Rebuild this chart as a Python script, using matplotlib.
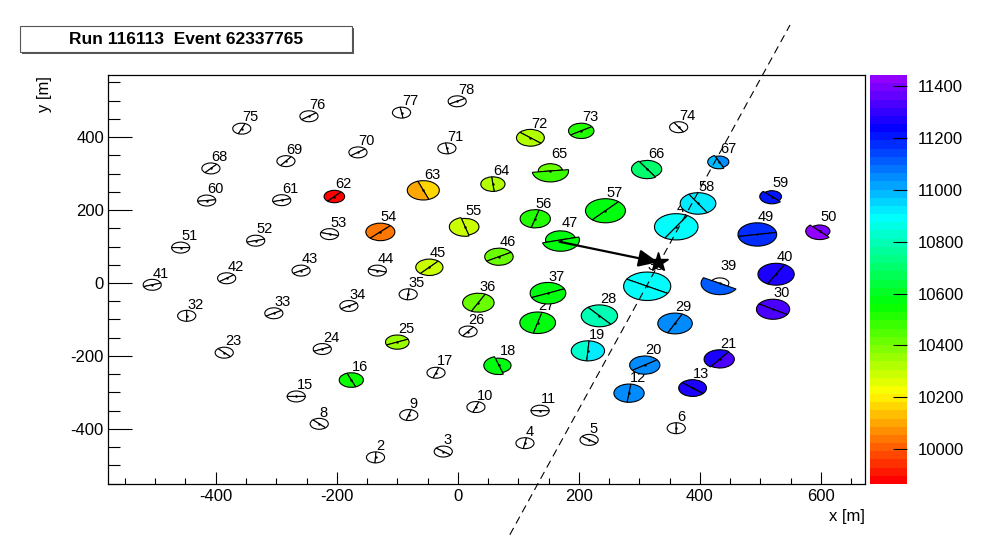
import numpy as np
import matplotlib
matplotlib.use('Agg')
import matplotlib.pyplot as plt
from matplotlib.patches import Wedge, Rectangle
from matplotlib.colors import ListedColormap, Normalize, hsv_to_rgb
import matplotlib.ticker as mticker

plt.rcParams['font.family'] = ['Liberation Sans', 'DejaVu Sans']
plt.rcParams['axes.unicode_minus'] = False

title = 'Run 116113  Event 62337765'
nan = np.nan

# station number and position [m]
st_id = [2, 3, 4, 5, 6, 8, 9, 10, 11, 12, 13, 15, 16, 17, 18, 19, 20, 21,
         23, 24, 25, 26, 27, 28, 29, 30, 32, 33, 34, 35, 36, 37, 38, 39, 40,
         41, 42, 43, 44, 45, 46, 47, 48, 49, 50, 51, 52, 53, 54, 55, 56, 57,
         58, 59, 60, 61, 62, 63, 64, 65, 66, 67, 68, 69, 70, 71, 72, 73, 74,
         75, 76, 77, 78]
st_x = [-136, -24, 111, 217, 361, -229, -81, 30, 136, 283, 388, -267, -176, -36, 68, 215, 309, 433,
        -386, -224, -100, 17, 132, 234, 359, 521, -448, -304, -180, -82, 34, 149, 313, 433, 526,
        -505, -382, -259, -133, -47, 68, 170, 361, 495, 598, -458, -334, -212, -128, 12, 128, 244,
        397, 519, -415, -291, -204, -57, 58, 153, 313, 432, -408, -284, -165, -18, 120, 204, 365,
        -357, -246, -93, -1]
st_y = [-478, -462, -439, -430, -398, -386, -362, -340, -350, -302, -288, -311, -266, -246, -226, -186, -225, -209,
        -191, -181, -162, -133, -109, -90, -111, -72, -90, -83, -63, -31, -54, -28, -9, -1, 24,
        -5, 13, 34, 34, 43, 72, 118, 154, 133, 142, 97, 116, 134, 140, 154, 176, 198,
        218, 237, 226, 227, 237, 254, 271, 307, 312, 332, 314, 334, 358, 369, 398, 417, 427,
        423, 457, 467, 498]
# direction of the line between the two tanks [deg]
st_ang = [87, -38, 80, -38, 90, -46, 74, 71, 0, 83, -41, 0, -69, 72, -73, 86, 35, 54,
          -47, 24, 24, 54, 76, -51, 65, -32, 90, 31, 31, 84, 64, 24, -30, -30, 62,
          19, 38, 31, -16, 49, 31, 15, 59, 10, -47, 0, 16, -16, 46, -75, 75, 49,
          -59, -45, 8, 16, 49, -70, -84, 7, -58, -66, 50, 54, 38, -81, -41, 33, -59,
          68, 38, -81, 31]
# tank radius [m] (a: side ang..ang+180, b: other side)
r_a = [15, 15, 15, 15, 15, 15, 15, 15, 15, 25, 23, 15, 20, 15, 20, 27.5, 25, 26,
       15, 15, 19.5, 15, 29.5, 30, 28.5, 27.5, 15, 15, 15, 15, 26, 29.5, 39, 15, 30,
       15, 15, 15, 15, 22.5, 23.5, 25, 36, 32, 17, 15, 15, 15, 24, 23, 25, 33,
       29.5, 16, 15, 15, 17, 26.5, 20, 20, 24, 16, 15, 15, 15, 15, 23, 21, 15,
       15, 15, 15, 15]
r_b = [15, 15, 15, 15, 15, 15, 15, 15, 15, 25, 23, 15, 20, 15, 25, 27.5, 25, 24,
       15, 15, 19.5, 15, 29.5, 30, 28.5, 27.5, 15, 15, 15, 15, 26, 29.5, 39, 31, 30,
       15, 15, 15, 15, 22.5, 23.5, 31, 36, 32, 23, 15, 15, 15, 24, 26, 25, 33,
       29.5, 20, 15, 15, 17, 26.5, 20, 30, 26, 19, 15, 15, 15, 15, 23, 21, 15,
       15, 15, 15, 15]
# tank times [ns], nan = no hit
t_a = [nan, nan, nan, nan, nan, nan, nan, nan, nan, 11060, 11260, nan, 10530, nan, 10560, 10840, 11045, 11260,
       nan, nan, 10350, nan, 10560, 10810, 11060, 11320, nan, nan, nan, nan, 10420, 10560, 10895, nan, 11260,
       nan, nan, nan, nan, 10290, 10420, 10560, 10895, 11175, 11400, nan, nan, nan, 10050, 10300, 10500, 10585,
       10920, 11200, nan, nan, 9866, 10150, 10330, 10420, 10700, 11035, nan, nan, nan, nan, 10330, 10500, nan,
       nan, nan, nan, nan]
t_b = [nan, nan, nan, nan, nan, nan, nan, nan, nan, 11060, 11260, nan, 10530, nan, 10560, 10910, 11045, 11345,
       nan, nan, 10350, nan, 10560, 10810, 11060, 11320, nan, nan, nan, nan, 10420, 10560, 10895, 11120, 11260,
       nan, nan, nan, nan, 10290, 10420, 10560, 10895, 11175, 11442, nan, nan, nan, 10050, 10300, 10500, 10585,
       10920, 11200, nan, nan, 9866, 10110, 10330, 10470, 10700, 10980, nan, nan, nan, nan, 10330, 10500, nan,
       nan, nan, nan, nan]

# shower core, direction arrow start and projected axis
core_x, core_y = 331, 57
arrow_x, arrow_y = 168, 113
axis_x = [86, 549]
axis_y = [-690, 707]

# ROOT style palette, red -> violet, 50 levels
cmap = ListedColormap([hsv_to_rgb((i * 5.6 / 360.0, 1, 1)) for i in range(50)])
norm = Normalize(np.nanmin(t_a + t_b), np.nanmax(t_a + t_b))

fig = plt.figure(figsize=(9.84, 5.39), dpi=100)
ax = fig.add_axes([0.1098, 0.1020, 0.7693, 0.7588])
ax.set_xlim(-578, 673)
ax.set_ylim(-551, 570)

for i, sid in enumerate(st_id):
    z = 2 + i * 0.01
    x, y, a = st_x[i], st_y[i], st_ang[i]
    for r, t, th in [(r_a[i], t_a[i], a), (r_b[i], t_b[i], a + 180)]:
        fc = 'white' if np.isnan(t) else cmap(norm(t))
        ax.add_patch(Wedge((x, y), r, th, th + 180, facecolor=fc,
                           edgecolor='black', lw=0.8, zorder=z))
    ax.plot(x, y, marker='.', ms=1.5, color='black', zorder=z + 0.002)
    ax.text(x + 1, y + max(r_a[i], r_b[i]) + 5, str(sid), fontsize=10.5,
            ha='left', va='baseline', zorder=z + 0.005)

ax.plot(axis_x, axis_y, color='black', lw=0.8, ls=(0, (7, 4.5)),
        clip_on=False, zorder=5)
ax.annotate('', xy=(core_x, core_y), xytext=(arrow_x, arrow_y),
            arrowprops=dict(arrowstyle='-|>,head_length=0.9,head_width=0.4',
                            color='black', lw=1.6, shrinkA=0, shrinkB=0,
                            mutation_scale=13), zorder=6)
ax.plot(core_x, core_y, marker='*', ms=15, color='black', zorder=7)

ax.xaxis.set_major_locator(mticker.MultipleLocator(200))
ax.xaxis.set_minor_locator(mticker.MultipleLocator(50))
ax.yaxis.set_major_locator(mticker.MultipleLocator(200))
ax.yaxis.set_minor_locator(mticker.MultipleLocator(50))
ax.tick_params(axis='x', which='major', direction='in', length=8.6, width=0.8,
               labelsize=12, pad=3.5)
ax.tick_params(axis='x', which='minor', direction='in', length=4.3, width=0.8)
ax.tick_params(axis='y', which='major', direction='in', length=17, width=0.8,
               labelsize=12, pad=3)
ax.tick_params(axis='y', which='minor', direction='in', length=8.6, width=0.8)
for s in ax.spines.values():
    s.set_linewidth(0.9)

fig.text(865 / 984, 1 - 516 / 539, 'x [m]', fontsize=12, ha='right', va='center')
fig.text(45 / 984, 1 - 76 / 539, 'y [m]', fontsize=12, ha='center', va='top',
         rotation=90)

# palette
cax = fig.add_axes([870 / 984, 0.1020, 37 / 984, 0.7588])
sm = matplotlib.cm.ScalarMappable(norm=norm, cmap=cmap)
cb = fig.colorbar(sm, cax=cax, ticks=np.arange(10000, 11401, 200))
cb.outline.set_visible(False)
cax.yaxis.set_ticks_position('right')
cax.tick_params(direction='in', length=10, width=0.8, labelsize=12, pad=8)
cax.minorticks_off()

# title pave
fig.patches.append(Rectangle((22 / 984, 1 - 54 / 539), 332 / 984, 26 / 539,
                             transform=fig.transFigure, facecolor='#555555',
                             edgecolor='none', zorder=1))
fig.patches.append(Rectangle((20 / 984, 1 - 52 / 539), 332 / 984, 26 / 539,
                             transform=fig.transFigure, facecolor='white',
                             edgecolor='#555555', lw=0.8, zorder=2))
fig.text(186 / 984, 1 - 39 / 539, title, fontsize=12.5, fontweight='bold',
         ha='center', va='center', zorder=3)

fig.savefig('out.png', dpi=100)
